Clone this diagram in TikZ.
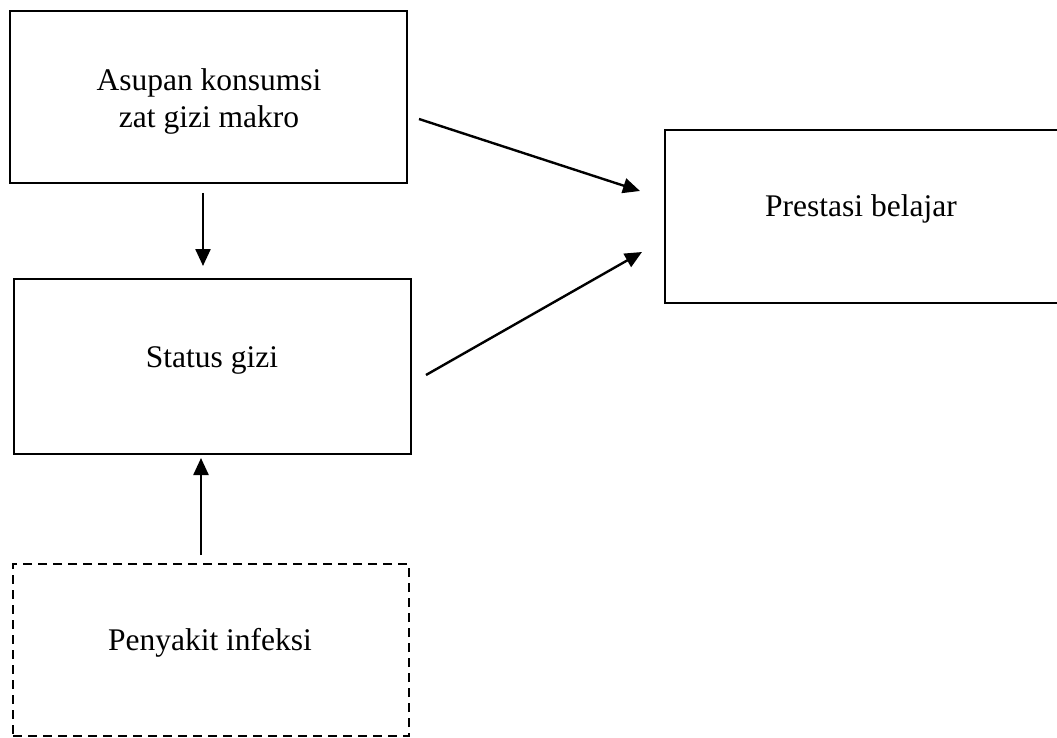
\documentclass[tikz,border=0pt]{standalone}
\usepackage{fontspec}
\setmainfont{Liberation Serif}
\usetikzlibrary{arrows.meta,calc}
\begin{document}
\begin{tikzpicture}[x=1pt,y=-1pt,
  box/.style={draw=black,line width=2.4pt,inner sep=0pt,outer sep=0pt},
  dbox/.style={box,dash pattern=on 9pt off 6pt},
  lbl/.style={inner sep=0pt,anchor=base,font=\fontsize{31.5}{37}\selectfont,align=center},
  arr/.style={line width=2.4pt,-{Triangle[length=17pt,width=15pt]}}]
\useasboundingbox (0,0) rectangle (1057,738);
\node[box,minimum width=397pt,minimum height=172pt] (A) at (208.5,97) {};
\node[box,minimum width=397pt,minimum height=175pt] (S) at (212.5,366.5) {};
\node[dbox,minimum width=396pt,minimum height=172pt] (P) at (211,650) {};
\node[box,minimum width=400pt,minimum height=173pt] (B) at (865,216.5) {};
\node[lbl] (tA1) at (209,91) {Asupan konsumsi};
\node[lbl] (tA2) at (209,128) {zat gizi makro};
\node[lbl] (tS) at (212,367) {Status gizi};
\node[lbl] (tP) at (210,650) {Penyakit infeksi};
\node[lbl] (tB) at (861,217) {Prestasi belajar};
\draw[arr] ($(A.south)+(-5.5,10)$) -- ($(S.north)+(-9.5,-13)$);
\draw[arr] ($(P.north)+(-10,-9)$) -- ($(S.south)+(-11.5,4)$);
\draw[arr] ($(A.east)+(12,22)$) -- ($(B.west)+(-25,-25.5)$);
\draw[arr] ($(S.east)+(15,8.5)$) -- ($(B.west)+(-23,35.5)$);
\end{tikzpicture}
\end{document}
